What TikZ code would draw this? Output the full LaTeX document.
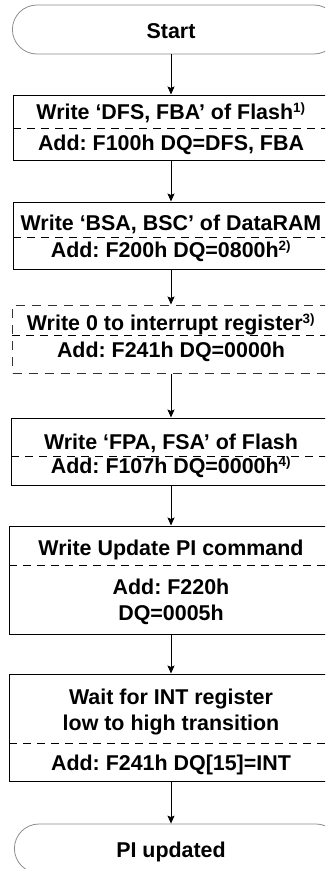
\documentclass[tikz,border=0pt]{standalone}
\usepackage{fontspec}
\setmainfont{Liberation Sans}
\usetikzlibrary{arrows.meta}
\newcommand{\fnsup}[1]{\textsuperscript{\fontsize{13.5}{14}\selectfont #1}}
\begin{document}
\frenchspacing
\begin{tikzpicture}[x=1bp,y=-1bp,
  term/.style={draw=black!45, line width=0.8bp, rounded corners=24.5bp, minimum width=326bp, minimum height=49bp, inner sep=0pt, anchor=west},
  box/.style={draw=black, line width=1bp, minimum width=340bp, inner sep=0pt, anchor=west},
  dbox/.style={draw=black!80, line width=1bp, dash pattern=on 9bp off 7bp, minimum width=340bp, inner sep=0pt, anchor=west},
  sep/.style={draw=black, line width=0.8bp, dash pattern=on 8bp off 6bp},
  txt/.style={font=\bfseries\fontsize{21.5}{24}\selectfont, inner sep=0pt, anchor=base},
  arr/.style={draw=black, line width=0.9bp, -{Stealth[length=8bp,width=7bp,inset=1.5bp]}}
]
\useasboundingbox (0,0) rectangle (325,869);
\clip (0,0) rectangle (325,869);

\coordinate (axis) at (171,0);

\node[term] (start) at (12,29.5) {};
\node[txt] (tstart) at (171,38.5) {Start};

\node[box, minimum height=65bp] (b1) at (13,127.5) {};
\draw[sep] (b1.west |- 0,128) -- (340,128);
\node[txt] (t1a) at (171,119.5) {Write ‘DFS, FBA’ of Flash\fnsup{1)}};
\node[txt] (t1b) at (171,150.5) {Add: F100h DQ=DFS, FBA};

\node[box, minimum height=67bp] (b2) at (13,235.5) {};
\draw[sep] (b2.west |- 0,237) -- (340,237);
\node[txt] (t2a) at (171,230.5) {Write ‘BSA, BSC’ of DataRAM};
\node[txt] (t2b) at (171,257.5) {Add: F200h DQ=0800h\fnsup{2)}};

\node[dbox, minimum height=68bp] (b3) at (12,339) {};
\draw[sep] (b3.west |- 0,335) -- (340,335);
\node[txt] (t3a) at (171,330.5) {Write 0 to interrupt register\fnsup{3)}};
\node[txt] (t3b) at (171,357.5) {Add: F241h DQ=0000h};

\node[box, minimum height=67bp] (b4) at (11,451.5) {};
\draw[sep] (b4.west |- 0,456) -- (340,456);
\node[txt] (t4a) at (171,449.5) {Write ‘FPA, FSA’ of Flash};
\node[txt] (t4b) at (171,473.5) {Add: F107h DQ=0000h\fnsup{4)}};

\node[box, minimum height=108bp] (b5) at (9,580) {};
\draw[sep] (b5.west |- 0,565) -- (340,565);
\node[txt] (t5a) at (171,555.5) {Write Update PI command};
\node[txt] (t5b) at (171,594.5) {Add: F220h};
\node[txt] (t5c) at (171,620.5) {DQ=0005h};

\node[box, minimum height=107bp] (b6) at (9,727.5) {};
\draw[sep] (b6.west |- 0,743) -- (340,743);
\node[txt] (t6a) at (171,704.5) {Wait for INT register};
\node[txt] (t6b) at (171,730.5) {low to high transition};
\node[txt] (t6c) at (171,770.5) {Add: F241h DQ[15]=INT};

\node[term] (end) at (14,848.5) {};
\node[txt] (tend) at (171,857.5) {PI updated};

\draw[arr] (start.south -| axis) -- (b1.north -| axis);
\draw[arr] (b1.south -| axis) -- (b2.north -| axis);
\draw[arr] (b2.south -| axis) -- (b3.north -| axis);
\draw[arr] (b3.south -| axis) -- (b4.north -| axis);
\draw[arr] (b4.south -| axis) -- (b5.north -| axis);
\draw[arr] (b5.south -| axis) -- (b6.north -| axis);
\draw[arr] (b6.south -| axis) -- (end.north -| axis);
\end{tikzpicture}
\end{document}
